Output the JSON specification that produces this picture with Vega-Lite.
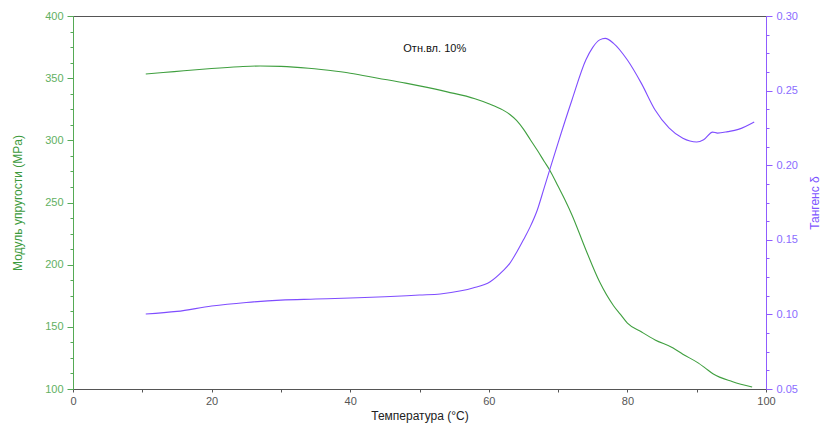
{
  "$schema": "https://vega.github.io/schema/vega-lite/v6.json",
  "width": 693,
  "height": 373,
  "autosize": "none",
  "padding": {"left": 73, "top": 16, "right": 61, "bottom": 36},
  "background": "white",
  "config": {
    "font": "Liberation Sans",
    "view": {"stroke": "#555555", "strokeWidth": 1},
    "axis": {"grid": false, "labelFont": "Liberation Sans", "titleFont": "Liberation Sans", "titleFontWeight": "normal", "labelFontSize": 11, "titleFontSize": 12}
  },
  "datasets": {
    "modulus": [
      {"T": 10.5, "E": 353.4}, {"T": 13, "E": 354.5}, {"T": 16, "E": 356}, {"T": 20, "E": 357.8},
      {"T": 24, "E": 359.2}, {"T": 27, "E": 359.8}, {"T": 30, "E": 359.5}, {"T": 34, "E": 358},
      {"T": 38, "E": 355.5}, {"T": 40, "E": 354}, {"T": 44, "E": 350}, {"T": 48, "E": 346},
      {"T": 50, "E": 343.8}, {"T": 54, "E": 339}, {"T": 58, "E": 333.5}, {"T": 60, "E": 329.5},
      {"T": 62, "E": 324.5}, {"T": 63, "E": 321}, {"T": 64, "E": 316}, {"T": 65, "E": 309},
      {"T": 66, "E": 300.5}, {"T": 67, "E": 292}, {"T": 68, "E": 283}, {"T": 68.8, "E": 276},
      {"T": 70, "E": 263}, {"T": 71, "E": 252}, {"T": 72, "E": 240}, {"T": 74, "E": 212},
      {"T": 76, "E": 186}, {"T": 78, "E": 167}, {"T": 79, "E": 160}, {"T": 80, "E": 153},
      {"T": 82, "E": 146}, {"T": 84, "E": 139.5}, {"T": 86.6, "E": 133}, {"T": 88, "E": 128},
      {"T": 90.2, "E": 121}, {"T": 91.2, "E": 117}, {"T": 92.4, "E": 112}, {"T": 95.2, "E": 105.9},
      {"T": 98, "E": 101.6}
    ],
    "tan": [
      {"T": 10.5, "D": 0.1003}, {"T": 15, "D": 0.102}, {"T": 20, "D": 0.1056}, {"T": 25, "D": 0.108},
      {"T": 30, "D": 0.1096}, {"T": 35, "D": 0.1103}, {"T": 40, "D": 0.111}, {"T": 45, "D": 0.1118},
      {"T": 50, "D": 0.113}, {"T": 53, "D": 0.1137}, {"T": 56, "D": 0.1158}, {"T": 57.7, "D": 0.1177},
      {"T": 60.2, "D": 0.1219}, {"T": 62, "D": 0.129}, {"T": 63, "D": 0.134}, {"T": 64, "D": 0.1415},
      {"T": 65, "D": 0.15}, {"T": 66, "D": 0.159}, {"T": 67, "D": 0.17}, {"T": 68, "D": 0.185},
      {"T": 68.8, "D": 0.197}, {"T": 70, "D": 0.215}, {"T": 72, "D": 0.2437}, {"T": 74, "D": 0.2705},
      {"T": 75, "D": 0.279}, {"T": 76, "D": 0.284}, {"T": 76.8, "D": 0.285}, {"T": 78, "D": 0.2817},
      {"T": 80, "D": 0.2705}, {"T": 82, "D": 0.255}, {"T": 84, "D": 0.237}, {"T": 86, "D": 0.225},
      {"T": 88, "D": 0.218}, {"T": 90, "D": 0.2155}, {"T": 91, "D": 0.217}, {"T": 92.3, "D": 0.2222},
      {"T": 93, "D": 0.2215}, {"T": 94.5, "D": 0.2225}, {"T": 96, "D": 0.224}, {"T": 98.3, "D": 0.229}
    ],
    "note": [{"T": 52.2, "E": 373.5, "label": "Отн.вл. 10%"}]
  },
  "layer": [
    {
      "data": {"name": "modulus"},
      "mark": {"type": "line", "color": "#3f9f3f", "strokeWidth": 1.1, "interpolate": "monotone"},
      "encoding": {
        "x": {
          "field": "T", "type": "quantitative",
          "scale": {"domain": [0, 100], "nice": false, "zero": false},
          "axis": {
            "title": "Температура (°C)", "titleColor": "#222222", "titlePadding": 4,
            "values": [0,5,10,15,20,25,30,35,40,45,50,55,60,65,70,75,80,85,90,95,100],
            "labelExpr": "datum.value % 20 == 0 ? datum.label : ''",
            "labelColor": "#555555", "domainColor": "#555555", "tickColor": "#555555",
            "tickSize": 3, "labelPadding": 3, "labelFlush": false
          }
        },
        "y": {
          "field": "E", "type": "quantitative",
          "scale": {"domain": [100, 400], "nice": false, "zero": false},
          "axis": {
            "title": "Модуль упругости (MPa)", "titleColor": "#3c9a3c", "titlePadding": 20,
            "values": [100,112.5,125,137.5,150,162.5,175,187.5,200,212.5,225,237.5,250,262.5,275,287.5,300,312.5,325,337.5,350,362.5,375,387.5,400],
            "labelExpr": "datum.value % 50 == 0 ? datum.label : ''",
            "labelColor": "#62b062", "domainColor": "#55aa55", "tickColor": "#55aa55",
            "tickSize": {"condition": {"test": "datum.value % 50 == 0", "value": 6}, "value": 3},
            "labelPadding": 4, "labelFlush": false
          }
        }
      }
    },
    {
      "data": {"name": "note"},
      "mark": {"type": "text", "fontSize": 11, "color": "#111111", "font": "Liberation Sans"},
      "encoding": {
        "x": {"field": "T", "type": "quantitative", "scale": {"domain": [0, 100], "nice": false, "zero": false}},
        "y": {"field": "E", "type": "quantitative", "scale": {"domain": [100, 400], "nice": false, "zero": false}, "axis": null},
        "text": {"field": "label"}
      }
    },
    {
      "data": {"name": "tan"},
      "mark": {"type": "line", "color": "#7f4dff", "strokeWidth": 1.1, "interpolate": "monotone"},
      "encoding": {
        "x": {"field": "T", "type": "quantitative", "scale": {"domain": [0, 100], "nice": false, "zero": false}},
        "y": {
          "field": "D", "type": "quantitative",
          "scale": {"domain": [0.05, 0.30], "nice": false, "zero": false},
          "axis": {
            "orient": "right", "title": "Тангенс δ", "titleColor": "#7d55ff", "titlePadding": 24, "titleAngle": 270,
            "values": [0.05,0.0625,0.075,0.0875,0.1,0.1125,0.125,0.1375,0.15,0.1625,0.175,0.1875,0.2,0.2125,0.225,0.2375,0.25,0.2625,0.275,0.2875,0.3],
            "format": ".2f",
            "labelExpr": "round(datum.value*10000) % 500 == 0 ? datum.label : ''",
            "labelColor": "#8a6cff", "domainColor": "#8f5cff", "tickColor": "#8f5cff",
            "tickSize": {"condition": {"test": "round(datum.value*10000) % 500 == 0", "value": 6}, "value": 3},
            "labelPadding": 4, "labelFlush": false
          }
        }
      }
    }
  ],
  "resolve": {"scale": {"y": "independent"}}
}
